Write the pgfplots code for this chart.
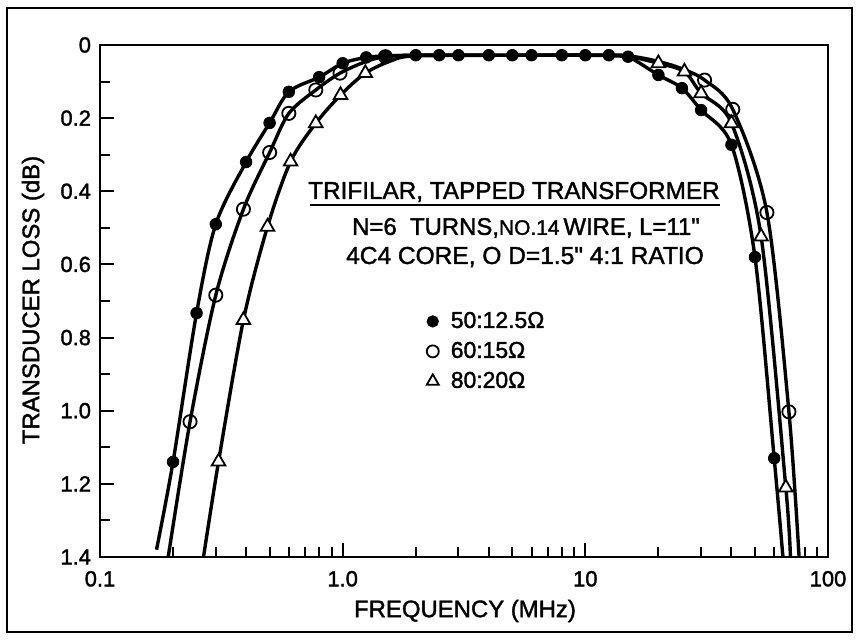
\documentclass[border=0pt]{standalone}
\usepackage{fontspec}
\setmainfont{Liberation Sans}[UprightFeatures={FakeBold=1.6}]
\newfontfamily\plainfont{Liberation Sans}[UprightFeatures={FakeBold=1.6}]
\usepackage{pgfplots}
\pgfplotsset{compat=1.18}
\newcommand\dq{{\plainfont"}}

% measured points: frequency (MHz), transducer loss (dB)
\pgfplotstableread{
f     l
0.2   1.14
0.25  0.733
0.3   0.49
0.4   0.32
0.5   0.213
0.6   0.128
0.8   0.088
1.0   0.05
1.25  0.034
1.5   0.03
2     0.028
2.5   0.028
3     0.028
4     0.028
5     0.028
6     0.028
8     0.028
10    0.028
12.5  0.028
15    0.032
20    0.082
25    0.118
30    0.178
40    0.273
50    0.58
60    1.13
}\seriesA
\pgfplotstableread{
f     l
0.235 1.03
0.3   0.684
0.39  0.449
0.5   0.294
0.6   0.187
0.775 0.123
0.975 0.077
1.5   0.032
31    0.096
40.5  0.176
56    0.458
69    1.003
}\seriesB
\pgfplotstableread{
f     l
0.308 1.139
0.39  0.752
0.49  0.497
0.61  0.319
0.775 0.214
0.98  0.137
1.24  0.077
20    0.05
25.6  0.073
30    0.132
40    0.214
53    0.524
67    1.21
}\seriesC

\begin{document}
\begin{tikzpicture}[x=0.5bp,y=0.5bp]
\useasboundingbox (0,0) rectangle (859,640);
\draw[line width=1.3bp] (7,8) rectangle (852,632);
\begin{axis}[
  at={(50bp,41.5bp)}, anchor=south west,
  width=364bp, height=256bp, scale only axis,
  xmode=log, xmin=0.1, xmax=100,
  ymin=0, ymax=1.4, y dir=reverse,
  xtick={0.1,1,10,100}, xticklabels={0.1,1.0,10,100},
  minor xtick={0.2,0.3,0.4,0.5,0.6,0.7,0.8,0.9,2,3,4,5,6,7,8,9,20,30,40,50,60,70,80,90},
  ytick={0,0.2,0.4,0.6,0.8,1.0,1.2,1.4},
  yticklabels={0,0.2,0.4,0.6,0.8,1.0,1.2,1.4},
  minor ytick={0.1,0.3,0.5,0.7,0.9,1.1,1.3},
  tick align=inside, tick pos=left,
  major tick length=7bp, minor tick length=5bp,
  every tick/.style={black, line width=1bp},
  axis line style={line width=1.2bp},
  /pgf/number format/assume math mode=true,
  ticklabel style={font=\fontsize{11}{12}\selectfont},
  yticklabel style={xshift=-1bp},
  xticklabel style={yshift=-3.5bp},
  clip=true,
  legend style={at={(0.44,0.495)}, anchor=north west, draw=none, fill=none,
    font=\fontsize{11.5}{13}\selectfont, row sep=1.5bp, cells={anchor=west},
    /tikz/every odd column/.append style={column sep=4bp}},
  legend image post style={line width=0.9bp},
]
% curves
\addplot[line width=1.7bp, smooth, forget plot] coordinates {
 (0.171,1.38) (0.2,1.14) (0.25,0.733) (0.3,0.49) (0.4,0.32) (0.5,0.213) (0.6,0.128)
 (0.8,0.088) (1.0,0.05) (1.25,0.034) (1.5,0.03) (2,0.028) (3,0.028) (5,0.028)
 (8,0.028) (12.5,0.028) (15,0.032) (20,0.082) (25,0.118) (30,0.178) (40,0.273)
 (50,0.58) (60,1.13) (65.2,1.4)};
\addplot[line width=1.7bp, smooth, forget plot] coordinates {
 (0.191,1.4) (0.235,1.03) (0.3,0.684) (0.39,0.449) (0.5,0.294) (0.6,0.187)
 (0.775,0.123) (0.975,0.077) (1.25,0.045) (1.5,0.032) (2,0.028) (5,0.028) (10,0.028)
 (15,0.03) (20,0.045) (25,0.065) (31,0.096) (40.5,0.176) (56,0.458) (69,1.003) (76,1.4)};
\addplot[line width=1.7bp, smooth, forget plot] coordinates {
 (0.267,1.4) (0.308,1.139) (0.39,0.752) (0.49,0.497) (0.61,0.319) (0.775,0.214)
 (0.98,0.137) (1.24,0.077) (1.6,0.042) (2,0.03) (5,0.028) (10,0.028) (15,0.032)
 (20,0.05) (25.6,0.073) (30,0.132) (40,0.214) (53,0.524) (67,1.21) (70,1.4)};
% markers
\addplot[only marks, mark=*, mark size=2.9bp, black, forget plot] table[x=f,y=l] {\seriesA};
\addplot[only marks, mark=o, mark size=3.3bp, black, line width=0.9bp,
  mark options={fill=white}, forget plot] table[x=f,y=l] {\seriesB};
\addplot[only marks, mark=triangle*, mark size=3.9bp, black, line width=0.9bp,
  mark options={fill=white}, forget plot] table[x=f,y=l] {\seriesC};
% legend
\addlegendimage{only marks, mark=*, mark size=2.6bp, black}
\addlegendentry{50:12.5Ω}
\addlegendimage{only marks, mark=o, mark size=3.0bp, black}
\addlegendentry{60:15Ω}
\addlegendimage{only marks, mark=triangle, mark size=3.5bp, black}
\addlegendentry{80:20Ω}
\end{axis}
% annotation
\node[font=\fontsize{12.2}{14}\selectfont] at (514,448) {TRIFILAR, TAPPED TRANSFORMER};
\draw[line width=1.1bp] (310,435) -- (720,435);
\node[font=\fontsize{12}{14}\selectfont] at (526,412) {N=6\ \ TURNS,{\fontsize{10.5}{12}\selectfont NO.14}\,WIRE, L=11\dq};
\node[font=\fontsize{12.3}{14}\selectfont] at (525,383) {4C4 CORE, O D=1.5\dq\ 4:1 RATIO};
% axis titles
\node[font=\fontsize{12}{14}\selectfont] at (465,29) {FREQUENCY (MHz)};
\node[font=\fontsize{12}{14}\selectfont, rotate=90] at (33,340) {TRANSDUCER LOSS (dB)};
\end{tikzpicture}
\end{document}
